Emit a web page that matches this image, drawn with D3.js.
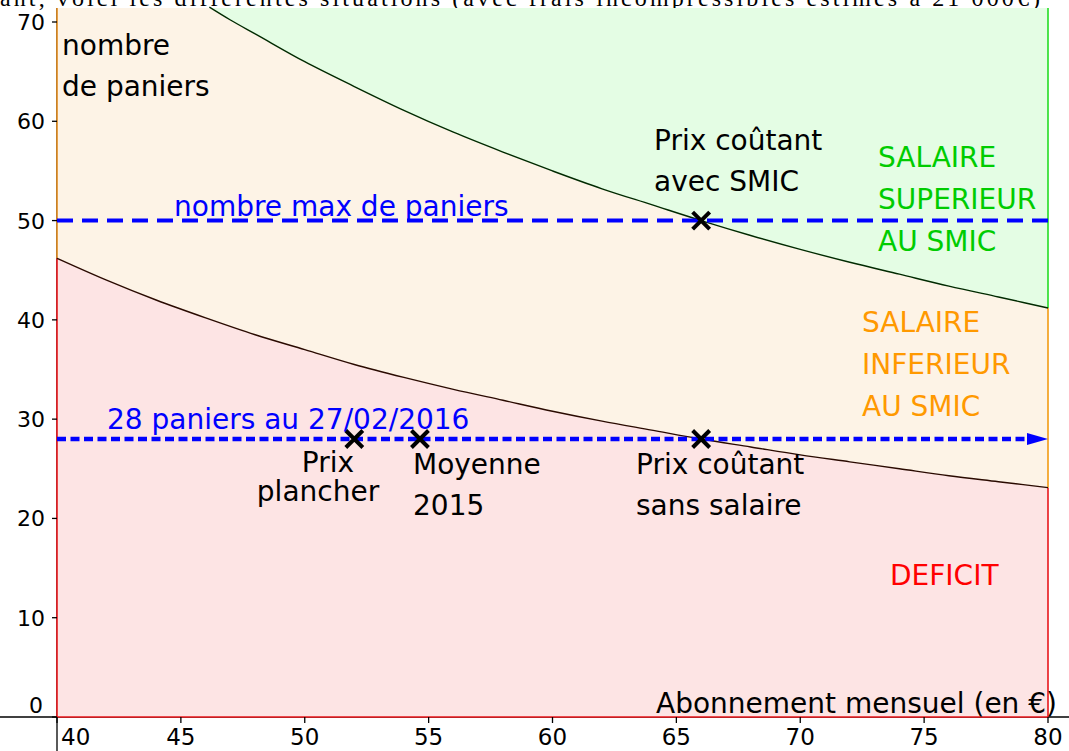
<!DOCTYPE html>
<html><head><meta charset="utf-8">
<script src="https://cdn.jsdelivr.net/npm/d3@7"></script>
<style>
html,body{margin:0;padding:0;background:#fff;}
svg{display:block;}
text{font-family:"DejaVu Sans",sans-serif;}
</style></head>
<body>
<svg id="chart" width="1069" height="751"></svg>
<script>
// ---- data ----
const xTicks = [40,45,50,55,60,65,70,75,80];
const yTicks = [0,10,20,30,40,50,60,70];
// "Prix coûtant avec SMIC" curve (upper boundary)
const upperX = [46.15,47,48,50,52,54,56,58,60,62,64,66,68,70,72,74,76,78,80];
const upperY = [71.5,70.2,68.8,66.0,63.5,61.1,58.9,56.9,55.0,53.2,51.6,50.0,48.5,47.1,45.8,44.6,43.4,42.3,41.2];
// "Prix coûtant sans salaire" curve (lower boundary)
const lowerX = [40,42,44,46,48,50,52,54,56,58,60,62,64,66,68,70,72,74,76,78,80];
const lowerY = [46.2,44.0,42.0,40.2,38.5,37.0,35.5,34.2,33.0,31.9,30.8,29.8,28.9,28.0,27.2,26.4,25.7,25.0,24.3,23.7,23.1];
const maxPaniers = 50;
const currentPaniers = 28;
const markX = [52, 54.65, 66, 66];
const markY = [28, 28, 28, 50];

const svg = d3.select("#chart");
const x = d3.scaleLinear().domain([40,80]).range([57,1048]);
const y = d3.scaleLinear().domain([0,70]).range([717,22]);
const yTop = y.invert(8);
const xMin = 40, xMax = 80;

const upper = upperX.map((v,i)=>[v,upperY[i]]);
const lower = lowerX.map((v,i)=>[v,lowerY[i]]);

// top partial sentence (cut off)
svg.append("text").attr("x",0).attr("y",6)
  .attr("textLength",1040).attr("lengthAdjust","spacing")
  .style("font-family","'Liberation Serif',serif").style("font-size","24px")
  .text("ant, voici les différentes situations (avec frais incompressibles estimés à 21 000€)");

// axes lines
svg.append("line").attr("x1",0).attr("x2",1069).attr("y1",y(0)).attr("y2",y(0)).attr("stroke","#000").attr("stroke-width",1.3);
svg.append("line").attr("x1",x(40)).attr("x2",x(40)).attr("y1",8).attr("y2",751).attr("stroke","#000").attr("stroke-width",1.3);

// regions
const areaLow = d3.area().x(d=>x(d[0])).y0(y(0)).y1(d=>y(d[1])).curve(d3.curveMonotoneX);
const areaMid = d3.area().x(d=>x(d[0])).y0(d=>y(d[1])).y1(y(yTop)).curve(d3.curveMonotoneX);
svg.append("path").datum(lower).attr("d",areaLow).attr("fill","#fde4e4");
svg.append("path").datum(lower).attr("d",areaMid).attr("fill","#fdf3e6");
svg.append("path").datum(upper).attr("d",areaMid).attr("fill","#e4fde4");

// region edges
function vline(xv,y0,y1,c){svg.append("line").attr("x1",x(xv)).attr("x2",x(xv)).attr("y1",y(y0)).attr("y2",y(y1)).attr("stroke",c).attr("stroke-width",1.6);}
vline(xMin,0,lowerY[0],"#e8161b");
vline(xMin,lowerY[0],yTop,"#e08a1c");
vline(xMax,0,lowerY[lowerY.length-1],"#e8161b");
vline(xMax,lowerY[lowerY.length-1],upperY[upperY.length-1],"#f29a12");
vline(xMax,upperY[upperY.length-1],yTop,"#22dd22");
svg.append("line").attr("x1",x(xMin)).attr("x2",x(xMax)).attr("y1",y(0)).attr("y2",y(0)).attr("stroke","#e8161b").attr("stroke-width",1.6);

// curves
const line = d3.line().x(d=>x(d[0])).y(d=>y(d[1])).curve(d3.curveMonotoneX);
svg.append("path").datum(lower).attr("d",line).attr("fill","none").attr("stroke","#2a0a00").attr("stroke-width",1.4);
svg.append("path").datum(upper).attr("d",line).attr("fill","none").attr("stroke","#002a00").attr("stroke-width",1.4);

// y ticks
yTicks.forEach(t=>{
  svg.append("line").attr("x1",x(40)-5).attr("x2",x(40)).attr("y1",y(t)).attr("y2",y(t)).attr("stroke","#000").attr("stroke-width",1.3);
  if(t===0){
    svg.append("text").attr("x",43).attr("y",y(t)-4).attr("text-anchor","end").style("font-size","22px").text(t);
  } else {
    svg.append("text").attr("x",45).attr("y",y(t)+8).attr("text-anchor","end").style("font-size","22px").text(t);
  }
});
// x ticks
xTicks.forEach(t=>{
  svg.append("line").attr("x1",x(t)).attr("x2",x(t)).attr("y1",y(0)).attr("y2",y(0)+6).attr("stroke","#000").attr("stroke-width",1.3);
  const first = t===xTicks[0];
  svg.append("text").attr("x",first ? x(t)+4 : x(t)).attr("y",745)
    .attr("text-anchor",first ? "start" : "middle").style("font-size","23px").text(t);
});

// dashed lines
svg.append("line").attr("x1",x(xMin)).attr("x2",x(xMax)).attr("y1",y(maxPaniers)).attr("y2",y(maxPaniers))
  .attr("stroke","#0000ff").attr("stroke-width",4).attr("stroke-dasharray","16,9");
svg.append("line").attr("x1",x(xMin)).attr("x2",x(xMax)-20).attr("y1",y(currentPaniers)).attr("y2",y(currentPaniers))
  .attr("stroke","#0000ff").attr("stroke-width",4.5).attr("stroke-dasharray","9,4.5");
const ax = x(xMax), ay = y(currentPaniers);
svg.append("path").attr("d",`M${ax},${ay} L${ax-21},${ay-6} L${ax-21},${ay+6} Z`).attr("fill","#0000ff");

// crosses
markX.forEach((mx,i)=>{
  const cx=x(mx), cy=y(markY[i]), s=8.5;
  svg.append("path").attr("d",`M${cx-s},${cy-s}L${cx+s},${cy+s}M${cx-s},${cy+s}L${cx+s},${cy-s}`)
    .attr("stroke","#000").attr("stroke-width",4);
});

// labels
function label(tx,ty,str,col,anchor){
  svg.append("text").attr("x",tx).attr("y",ty).attr("fill",col||"#000")
    .attr("text-anchor",anchor||"start").style("font-size","28px").text(str);
}
label(62,55,"nombre");
label(62,96,"de paniers");
label(174,216,"nombre max de paniers","#0000ff");
label(107,429,"28 paniers au 27/02/2016","#0000ff");
label(654,150,"Prix coûtant");
label(654,191,"avec SMIC");
label(878,167,"SALAIRE","#00cc00");
label(878,209,"SUPERIEUR","#00cc00");
label(878,251,"AU SMIC","#00cc00");
label(862,332,"SALAIRE","#ff9900");
label(862,374,"INFERIEUR","#ff9900");
label(862,416,"AU SMIC","#ff9900");
label(328,472,"Prix","#000","middle");
label(318,501,"plancher","#000","middle");
label(413,474,"Moyenne");
label(413,515,"2015");
label(636,474,"Prix coûtant");
label(636,515,"sans salaire");
label(890,585,"DEFICIT","#ff0000");
label(1057,713,"Abonnement mensuel (en €)","#000","end");
</script>
</body></html>
